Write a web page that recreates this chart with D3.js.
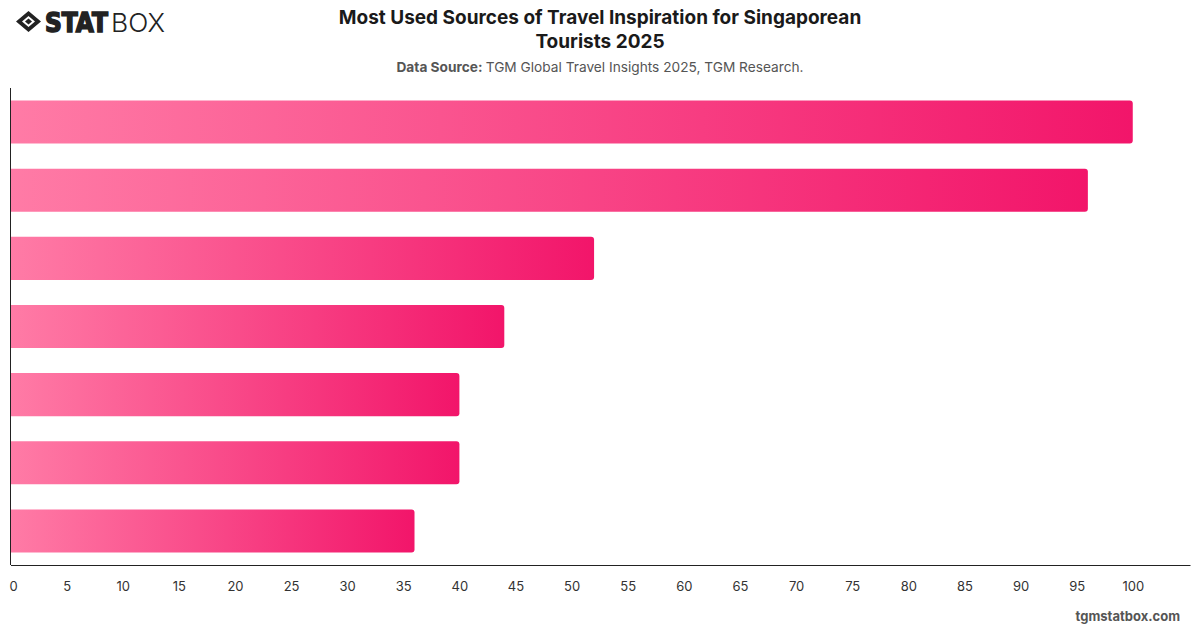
<!DOCTYPE html>
<html>
<head>
<meta charset="utf-8">
<script src="https://cdn.jsdelivr.net/npm/d3@7"></script>
<style>
  html, body { margin: 0; padding: 0; background: #fff; }
  svg { display: block; font-family: Inter, "Liberation Sans", Arial, sans-serif; }
</style>
</head>
<body>
<div id="chart"></div>
<script>
// categories are not labelled in the picture, keep generic ids
const categories = ['Source 1', 'Source 2', 'Source 3', 'Source 4', 'Source 5', 'Source 6', 'Source 7'];
const values = [100, 96, 52, 44, 40, 40, 36];
const xTicks = [0, 5, 10, 15, 20, 25, 30, 35, 40, 45, 50, 55, 60, 65, 70, 75, 80, 85, 90, 95, 100];

const W = 1200, H = 628;
const margin = { top: 88, right: 10, bottom: 63, left: 10.5 };

const svg = d3.select('#chart').append('svg')
  .attr('width', W)
  .attr('height', H);

// gradient for the bars (light on the left, strong pink on the right)
const defs = svg.append('defs');
const grad = defs.append('linearGradient')
  .attr('id', 'barGrad')
  .attr('x1', '0%').attr('x2', '100%')
  .attr('y1', '0%').attr('y2', '0%');
grad.append('stop').attr('offset', '0%').attr('stop-color', '#ff7ba6');
grad.append('stop').attr('offset', '100%').attr('stop-color', '#f2156a');

const x = d3.scaleLinear()
  .domain([0, 105.1])
  .range([margin.left, W - margin.right]);

const y = d3.scaleBand()
  .domain(categories)
  .range([margin.top, H - margin.bottom])
  .paddingInner(0.368)
  .paddingOuter(0.184);

// bars: square on the left, rounded on the right
const r = 3;
svg.append('g').attr('class', 'bars')
  .selectAll('path')
  .data(values)
  .enter()
  .append('path')
  .attr('fill', 'url(#barGrad)')
  .attr('d', (d, i) => {
    const x0 = x(0), x1 = x(d);
    const y0 = y(categories[i]), h = y.bandwidth();
    return `M${x0},${y0}H${x1 - r}Q${x1},${y0} ${x1},${y0 + r}` +
      `V${y0 + h - r}Q${x1},${y0 + h} ${x1 - r},${y0 + h}H${x0}Z`;
  });

// axes
const xAxis = d3.axisBottom(x)
  .tickValues(xTicks)
  .tickSize(0)
  .tickPadding(17);

const gx = svg.append('g')
  .attr('transform', `translate(0,${H - margin.bottom})`)
  .call(xAxis);
gx.select('.domain').attr('stroke', '#222').attr('stroke-width', 1);
gx.selectAll('text')
  .attr('font-size', 13)
  .attr('fill', '#333')
  .attr('font-family', 'Inter, "Liberation Sans", Arial, sans-serif')
  .attr('dx', (d) => d === 0 ? 2.5 : 0);

svg.append('line')
  .attr('x1', x(0)).attr('x2', x(0))
  .attr('y1', margin.top).attr('y2', H - margin.bottom)
  .attr('stroke', '#222')
  .attr('stroke-width', 1);

// title
const title = svg.append('text')
  .attr('text-anchor', 'middle')
  .attr('font-size', 19)
  .attr('font-weight', 700)
  .attr('fill', '#1a1a1a');
title.append('tspan').attr('x', 600).attr('y', 24).text('Most Used Sources of Travel Inspiration for Singaporean');
title.append('tspan').attr('x', 600).attr('y', 48).text('Tourists 2025');

const sub = svg.append('text')
  .attr('x', 600).attr('y', 72)
  .attr('text-anchor', 'middle')
  .attr('font-size', 13.7)
  .attr('fill', '#555');
sub.append('tspan').attr('font-weight', 700).text('Data Source: ');
sub.append('tspan').text('TGM Global Travel Insights 2025, TGM Research.');

// footer
svg.append('text')
  .attr('x', 1180).attr('y', 621)
  .attr('text-anchor', 'end')
  .attr('font-size', 13)
  .attr('font-weight', 700)
  .attr('fill', '#555')
  .text('tgmstatbox.com');

// logo
const logo = svg.append('g').attr('transform', 'translate(16,11)');
logo.append('path')
  .attr('d', 'M12.5,0 L25,10.5 L12.5,21 L0,10.5 Z M12.5,5 L6,10.5 L12.5,16 L19,10.5 Z')
  .attr('fill', '#222')
  .attr('fill-rule', 'evenodd');
logo.append('path')
  .attr('d', 'M12.5,7.5 L16,10.5 L12.5,13.5 L9,10.5 Z')
  .attr('fill', '#222');
logo.append('text')
  .attr('x', 29).attr('y', 20.5)
  .attr('font-size', 26)
  .attr('font-weight', 900)
  .attr('font-family', '"DejaVu Sans", sans-serif')
  .attr('textLength', 63)
  .attr('lengthAdjust', 'spacingAndGlyphs')
  .attr('stroke', '#222')
  .attr('stroke-width', 1.6)
  .attr('fill', '#222')
  .text('STAT');
logo.append('text')
  .attr('x', 95).attr('y', 20.5)
  .attr('font-size', 26)
  .attr('font-weight', 300)
  .attr('textLength', 54)
  .attr('lengthAdjust', 'spacingAndGlyphs')
  .attr('fill', '#222')
  .text('BOX');
</script>
</body>
</html>
